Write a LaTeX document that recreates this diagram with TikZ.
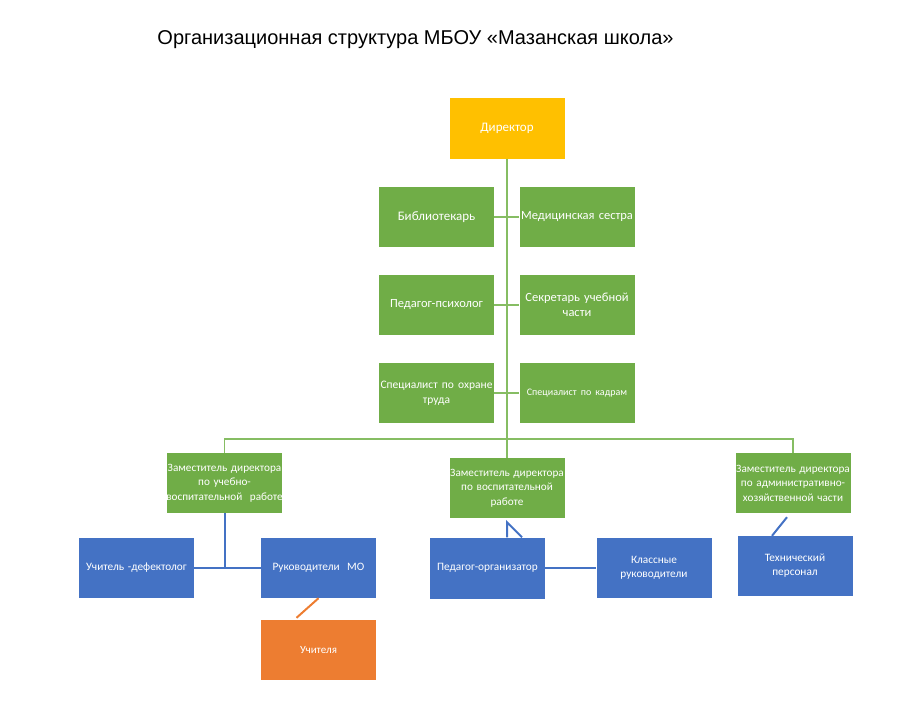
\documentclass[tikz,border=0pt]{standalone}
\usepackage{fontspec}
\setmainfont{Carlito}
\newfontfamily\titlefont{Liberation Sans}
\usetikzlibrary{backgrounds}
\definecolor{dirc}{HTML}{FFC000}
\definecolor{grn}{HTML}{70AD47}
\definecolor{blu}{HTML}{4472C4}
\definecolor{orng}{HTML}{ED7D31}
\definecolor{grnline}{HTML}{86BD63}
\newcommand{\wide}[1]{\makebox[115pt][c]{#1}}
\tikzset{
  box/.style={rectangle, minimum width=115pt, minimum height=60pt, text width=115pt,
    inner sep=0pt, align=center, text=white, font=\fontsize{12.5}{14.5}\selectfont},
  gbox/.style={box, fill=grn},
  zbox/.style={box, fill=grn, font=\fontsize{11.2}{14.5}\selectfont},
  bbox/.style={box, fill=blu, font=\fontsize{11.3}{14}\selectfont},
  gline/.style={draw=grnline, line width=1.3pt},
  bline/.style={draw=blu, line width=2pt},
}
\begin{document}
\begin{tikzpicture}[x=1pt, y=-1pt]

\useasboundingbox (0,0) rectangle (920,702);

\node[anchor=base, font=\titlefont\fontsize{20}{23}\selectfont] (title) at (415.5,44)
  {Организационная структура МБОУ «Мазанская школа»};

\node[box, fill=dirc, minimum height=61pt, font=\fontsize{13}{15}\selectfont] (dir) at (507,128.5) {Директор};

\node[gbox] (bib) at (436.5,217) {\fontsize{13}{15}\selectfont Библиотекарь};
\node[gbox] (med) at (577,217)   {\wide{Медицинская сестра}};
\node[gbox] (psy) at (436.5,305) {Педагог-психолог};
\node[gbox] (sek) at (577,305)   {Секретарь учебной\\части};
\node[gbox] (ohr) at (436.5,393) {\fontsize{11.5}{14.5}\selectfont\wide{Специалист по охране}\\труда};
\node[gbox] (kad) at (577,393)   {\fontsize{10}{12}\selectfont Специалист по кадрам};

\node[zbox] (zuvr)  at (224.5,483) {\wide{Заместитель директора}\\по учебно-\\\wide{воспитательной~~работе}};
\node[zbox] (zvr)   at (507,488)   {\wide{Заместитель директора}\\по воспитательной\\работе};
\node[zbox] (zahch) at (793,483)   {\wide{Заместитель директора}\\по административно-\\хозяйственной части};

\node[bbox] (def) at (136.5,568) {Учитель -дефектолог};
\node[bbox] (mo)  at (318.5,568) {Руководители~~МО};
\node[box, fill=orng] (uch) at (318.5,650) {\fontsize{11}{13}\selectfont Учителя};
\node[bbox, minimum height=61pt] (org) at (487.5,568) {Педагог-организатор};
\node[bbox] (kl)  at (654,568)   {Классные\\руководители};
\node[bbox] (teh) at (795,566)   {Технический\\персонал};

\coordinate (bus) at (507,439);

\draw[gline] (dir.south) -- (zvr.north);
\draw[gline] (bib.east) -- (med.west);
\draw[gline] (psy.east) -- (sek.west);
\draw[gline] (ohr.east) -- (kad.west);
\draw[gline] (zuvr.north) |- (bus) -| (zahch.north);

\draw[bline] (zuvr.south) -- (zuvr.south |- def.east);
\draw[bline] (def.east) -- (mo.west);
\draw[bline] (org.north -| zvr.south) -- ([yshift=-4pt]zvr.south) -- ([xshift=15pt]org.north -| zvr.south);
\draw[bline] (org.east) -- (kl.west);
\draw[bline] ([xshift=-23pt]teh.north) -- ([xshift=-6pt,yshift=-4pt]zahch.south);
\draw[draw=orng, line width=2pt] (mo.south) -- ([xshift=-22pt,yshift=2pt]uch.north);

\end{tikzpicture}
\end{document}
